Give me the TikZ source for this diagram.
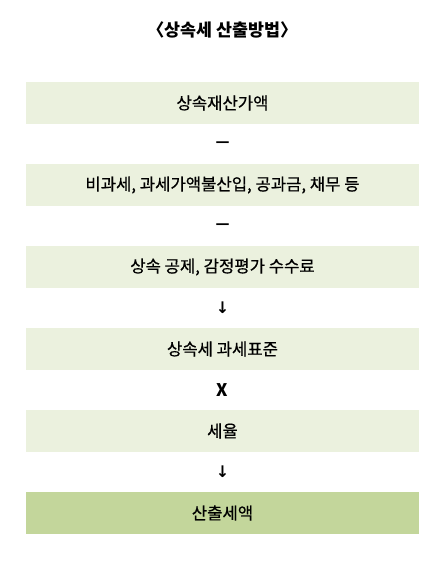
\documentclass[tikz,border=0pt]{standalone}
\usepackage{fontspec}
\setmainfont{Noto Sans CJK KR}
\newfontfamily\boxfont{Noto Sans CJK KR}[FakeBold=0.6]
\newfontfamily\symfont{DejaVu Sans}
\definecolor{lightgreen}{HTML}{EBF1DE}
\definecolor{darkgreen}{HTML}{C3D69B}
\tikzset{
  stepbox/.style={fill=lightgreen, draw=none, minimum width=294.75pt, minimum height=31.5pt, inner sep=0pt, font=\boxfont\fontsize{12.5pt}{14pt}\selectfont},
  resultbox/.style={stepbox, fill=darkgreen},
  oplabel/.style={inner sep=0pt, font=\fontsize{13pt}{15pt}\selectfont\bfseries},
  dashlabel/.style={inner sep=0pt, font=\symfont\fontsize{10.5pt}{12pt}\selectfont\bfseries},
  arrowlabel/.style={inner sep=0pt, font=\symfont\fontsize{12pt}{14pt}\selectfont\bfseries}
}
\begin{document}
\begin{tikzpicture}[x=0.75pt, y=-0.75pt]
\useasboundingbox[fill=white] (0,0) rectangle (447,569);
\node[font=\fontsize{13pt}{15pt}\selectfont\bfseries] (title) at (222.5,30) {〈상속세 산출방법〉};
\node[stepbox] (b1) at (222.5,103) {상속재산가액};
\node[dashlabel] (o1) at (222.5,144) {—};
\node[stepbox] (b2) at (222.5,185) {비과세, 과세가액불산입, 공과금, 채무 등};
\node[dashlabel] (o2) at (222.5,226) {—};
\node[stepbox] (b3) at (222.5,267) {상속 공제, 감정평가 수수료};
\node[arrowlabel] (o3) at (222.5,308) {↓};
\node[stepbox] (b4) at (222.5,349) {상속세 과세표준};
\node[oplabel] (o4) at (222.5,390) {X};
\node[stepbox] (b5) at (222.5,431) {세율};
\node[arrowlabel] (o5) at (222.5,472) {↓};
\node[resultbox] (b6) at (222.5,513) {산출세액};
\end{tikzpicture}
\end{document}
